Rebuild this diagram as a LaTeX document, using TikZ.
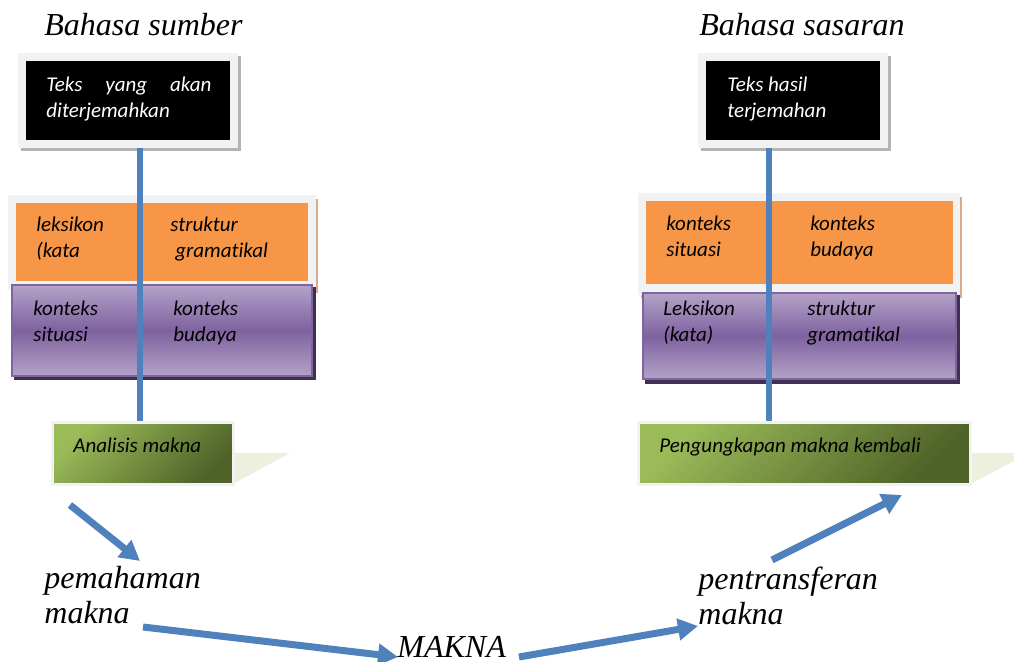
\documentclass[tikz,border=0pt]{standalone}
\usepackage{fontspec}
\setmainfont{Liberation Serif}
\newfontfamily\boxfont[Ligatures=NoCommon]{Carlito}
\usetikzlibrary{arrows.meta}

\definecolor{flowblue}{HTML}{4F81BD}
\definecolor{orangefill}{HTML}{F79646}
\definecolor{tanedge}{HTML}{D8A98A}
\definecolor{framegray}{HTML}{F2F2F2}
\definecolor{shadowgray}{HTML}{B4B4B4}
\definecolor{purlight}{HTML}{B3A2C7}
\definecolor{purdark}{HTML}{7E62A0}
\definecolor{purline}{HTML}{8064A2}
\definecolor{purshadow}{HTML}{3F3151}
\definecolor{greenlight}{HTML}{9BBB59}
\definecolor{greendark}{HTML}{4F6228}
\definecolor{greenpale}{HTML}{EBF1DE}

% multi-line nodes are anchored at the baseline of their last line
\tikzset{
  boxtext/.style={font=\boxfont\itshape\fontsize{10.5}{13}\selectfont,
    anchor=base west, inner sep=0pt, align=left},
  bigtext/.style={font=\itshape\fontsize{16}{17.5}\selectfont,
    anchor=base west, inner sep=0pt, align=left},
  textbox/.style={rectangle, fill=black, draw=framegray, line width=4pt, inner sep=0pt},
  stepbox/.style={rectangle, draw=framegray, line width=1.5pt, inner sep=0pt,
    top color=greenlight, bottom color=greendark, shading angle=45},
  purplebar/.style={top color=purlight, bottom color=purlight, middle color=purdark,
    draw=purline, line width=1pt},
  spine/.style={draw=flowblue, line width=3pt},
  flow/.style={draw=flowblue, line width=3.5pt, -{Triangle[length=10pt,width=10.5pt]}},
}

\begin{document}
\begin{tikzpicture}[x=0.5pt, y=-0.5pt]
\useasboundingbox (0,0) rectangle (1014,662);

% ---------- source language column ----------
\node[bigtext] (srclang) at (44,36) {Bahasa sumber};

\fill[shadowgray] (21,56) rectangle (241,151);
\node[textbox, minimum width=106pt, minimum height=43.5pt] (src) at (128,100.5) {};
\node[boxtext, text=white] (srctxt) at (46,92)
  {\parbox[t]{82.5pt}{Teks yang akan\linebreak diterjemahkan}};

% lexical / grammatical layer
\fill[tanedge] (11,199) rectangle (318,293);
\fill[framegray] (8,195) rectangle (316,290);
\fill[orangefill] (16,203) rectangle (308,281);
\node[boxtext] (lexL) at (36,258) {leksikon\\(kata};
\node[boxtext] (strL) at (170,258) {struktur\\\hspace*{2.5pt}gramatikal};

% context layer
\fill[purshadow] (14,287) rectangle (316,380);
\shadedraw[purplebar] (12,285) rectangle (312,376);
\node[boxtext] (sitL) at (33,342) {konteks\\situasi};
\node[boxtext] (budL) at (173,342) {konteks\\budaya};

% analysis step
\fill[greenpale] (233,453) -- (290,453) -- (233,484) -- cycle;
\node[stepbox, minimum width=90.5pt, minimum height=31pt] (ana) at (143,453.5) {};
\node[boxtext] (anatxt) at (73,453) {Analisis makna};

\coordinate (lx) at (140,0);
\draw[spine] (src.south -| lx) -- (ana.north -| lx);

% ---------- target language column ----------
\node[bigtext] (tgtlang) at (699,36) {Bahasa sasaran};

\fill[shadowgray] (701,56) rectangle (891,151);
\node[textbox, minimum width=91pt, minimum height=43.5pt] (tgt) at (793,100.5) {};
\node[boxtext, text=white] (tgttxt) at (727,118) {Teks hasil\\terjemahan};

% context layer
\fill[tanedge] (641,197) rectangle (962,298);
\fill[framegray] (638,193) rectangle (960,295);
\fill[orangefill] (646,201) rectangle (953,284);
\node[boxtext] (sitR) at (666,257) {konteks\\situasi};
\node[boxtext] (budR) at (810,257) {konteks\\budaya};

% lexical / grammatical layer
\fill[purshadow] (645,295) rectangle (960,384);
\shadedraw[purplebar] (643,293) rectangle (956,379);
\node[boxtext] (lexR) at (663,342) {Leksikon\\(kata)};
\node[boxtext] (strR) at (807,342) {struktur\\gramatikal};

% re-expression step
\fill[greenpale] (970,453) -- (1014,453) -- (1014,461) -- (970,484) -- cycle;
\node[stepbox, minimum width=166pt, minimum height=31pt] (rex) at (804.5,453.5) {};
\node[boxtext] (rextxt) at (659,453) {Pengungkapan makna kembali};

\coordinate (rx) at (769,0);
\draw[spine] (tgt.south -| rx) -- (rex.north -| rx);

% ---------- meaning flow ----------
\node[bigtext] (pem) at (44,624) {pemahaman\\makna};
\node[bigtext] (makna) at (397,658) {MAKNA};
\node[bigtext] (pent) at (698,625) {pentransferan\\makna};

\coordinate (a1s) at (70,505);
\coordinate (a1e) at (140,561);
\coordinate (a2s) at (143,627);
\coordinate (a2e) at (398,657);
\coordinate (a3s) at (519,657);
\coordinate (a3e) at (698,626);
\coordinate (a4s) at (772,560);
\coordinate (a4e) at (902,495);

\draw[flow] (a1s) -- (a1e);
\draw[flow] (a2s) -- (a2e);
\draw[flow] (a3s) -- (a3e);
\draw[flow] (a4s) -- (a4e);
\end{tikzpicture}
\end{document}
